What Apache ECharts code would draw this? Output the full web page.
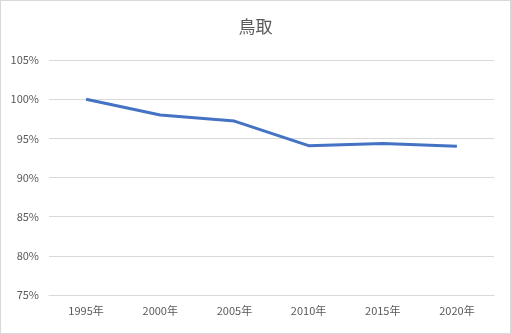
<!DOCTYPE html>
<html><head><meta charset="utf-8">
<script src="https://cdn.jsdelivr.net/npm/echarts@6/dist/echarts.min.js"></script>
<style>html,body{margin:0;padding:0;background:#fff}#c{width:511px;height:334px;box-sizing:border-box;border:1px solid #d9d9d9}</style>
</head><body><div id="c"></div>
<script>
const categories = ['1995年','2000年','2005年','2010年','2015年','2020年'];
const values = [100, 97.98, 97.2, 94.06, 94.35, 93.98];
const chart = echarts.init(document.getElementById('c'));
chart.setOption({
  animation: false,
  title: { text: '鳥取', left: 'center', top: 12, textStyle: { fontFamily: 'Noto Sans CJK JP', fontSize: 17, fontWeight: 'normal', color: '#595959' } },
  grid: { left: 48, right: 16, top: 59, bottom: 38 },
  xAxis: { type: 'category', data: categories, boundaryGap: true,
    axisLine: { show: true, lineStyle: { color: '#d9d9d9' } }, axisTick: { show: false },
    axisLabel: { color: '#595959', fontSize: 11, fontFamily: 'Noto Sans CJK JP', margin: 10 } },
  yAxis: { type: 'value', min: 75, max: 105, interval: 5,
    axisLine: { show: false }, axisTick: { show: false },
    splitLine: { lineStyle: { color: '#d9d9d9' } },
    axisLabel: { color: '#595959', fontSize: 11, fontFamily: 'Noto Sans CJK JP', margin: 10, formatter: v => v + '%' } },
  series: [{ type: 'line', data: values, symbol: 'none', lineStyle: { color: '#4472C4', width: 3 } }]
});
</script></body></html>
